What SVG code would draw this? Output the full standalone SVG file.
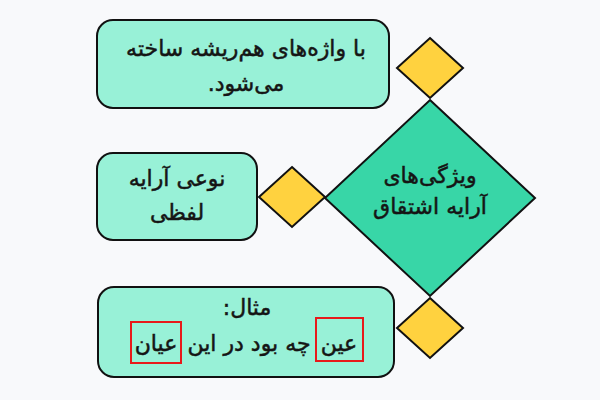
<svg xmlns="http://www.w3.org/2000/svg" width="600" height="400" viewBox="0 0 600 400">
<style>
.box{fill:#98f1d7;stroke:#111;stroke-width:2}
.yel{fill:#ffd23f;stroke:#111;stroke-width:2;stroke-linejoin:miter}
.big{fill:#38d6a7;stroke:#111;stroke-width:2}
.t{font-family:"DejaVu Sans","Noto Sans",sans-serif;font-size:22px;fill:#151515;stroke:#151515;stroke-width:0.5;text-anchor:middle;direction:rtl}
.hl{fill:none;stroke:#e8191a;stroke-width:2}
</style>
<rect width="600" height="400" fill="#f8f9fb"/>
<g id="connectors"></g>
<g id="center">
<polygon class="big" points="430,100 535,198 430,296 325,198"/>
<text class="t" x="430" y="183">ویژگی‌های</text>
<text class="t" x="430" y="214">آرایه اشتقاق</text>
</g>
<g id="d-top"><polygon class="yel" points="430,38 463,68 430,98 397,68"/></g>
<g id="d-mid"><polygon class="yel" points="292,167 325,197 292,227 259,197"/></g>
<g id="d-bot"><polygon class="yel" points="430,298 463,328 430,358 397,328"/></g>
<g id="box-top">
<rect class="box" x="97" y="20" width="292" height="88" rx="16"/>
<text class="t" x="246" y="56">با واژه‌های هم‌ریشه ساخته</text>
<text class="t" x="246" y="91">می‌شود.</text>
</g>
<g id="box-mid">
<rect class="box" x="97" y="153" width="160" height="87" rx="16"/>
<text class="t" x="177" y="186">نوعی آرایه</text>
<text class="t" x="177" y="220">لفظی</text>
</g>
<g id="box-bot">
<rect class="box" x="98" y="287" width="296" height="90" rx="16"/>
<text class="t" x="247" y="315">مثال:</text>
<text class="t" x="339" y="351">عین</text>
<text class="t" x="249" y="351">چه بود در این</text>
<text class="t" x="156" y="351">عیان</text>
<rect class="hl" x="316" y="318" width="47" height="43"/>
<rect class="hl" x="131" y="322" width="50" height="41"/>
</g>
</svg>
